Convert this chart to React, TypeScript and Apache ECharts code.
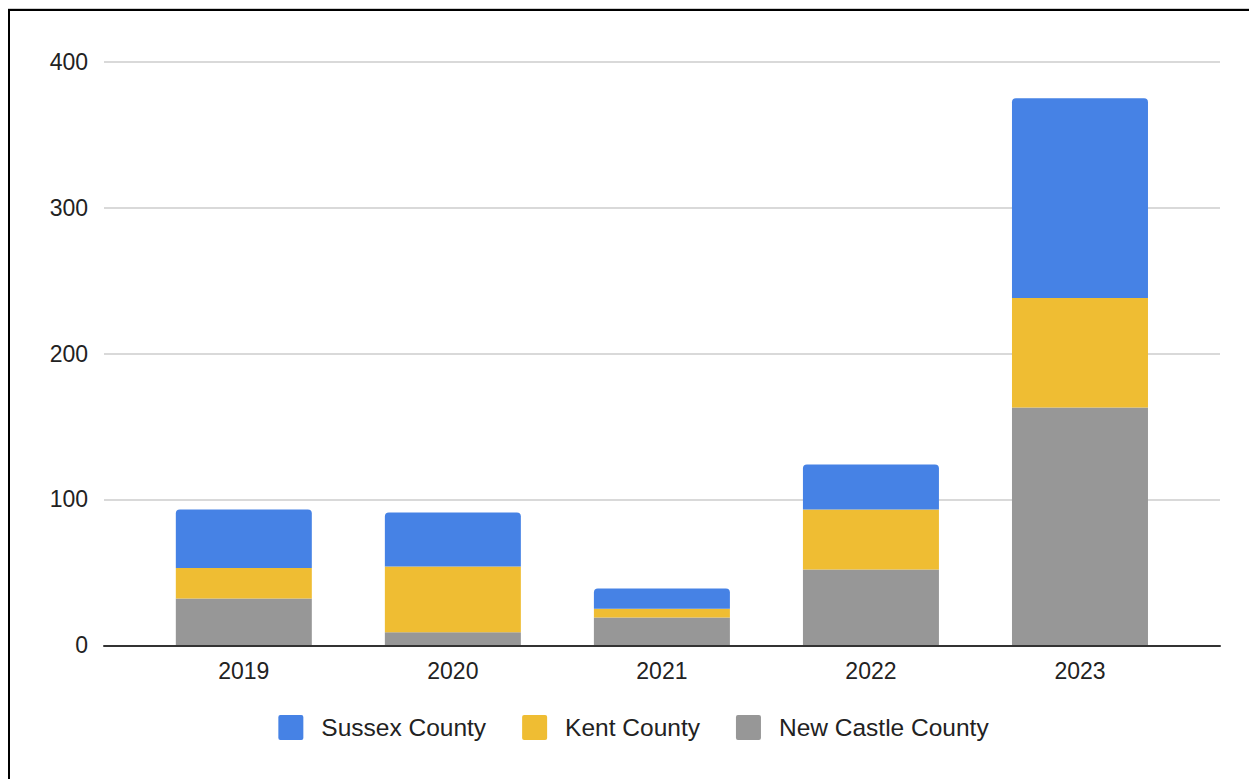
import React, { useEffect, useRef } from "react";
import * as echarts from "echarts";

const years = ["2019", "2020", "2021", "2022", "2023"];
const newCastle = [32, 9, 19, 52, 163];
const kent = [21, 45, 6, 41, 75];
const sussex = [40, 37, 14, 31, 137];
const yTicks = { min: 0, max: 400, interval: 100 };

const FONT = "'Liberation Sans', Arial, sans-serif";
const BLUE = "#4682e5";
const YELLOW = "#efbd33";
const GRAY = "#979797";
const SQUARE = "path://M2,0 L23,0 Q25,0 25,2 L25,23 Q25,25 23,25 L2,25 Q0,25 0,23 L0,2 Q0,0 2,0 Z";

export default function App() {
  const ref = useRef<HTMLDivElement>(null);
  useEffect(() => {
    document.documentElement.style.overflow = "hidden";
    document.body.style.overflow = "hidden";
    const chart = echarts.init(ref.current!, null, { renderer: "svg" });
    const top = 50.7;
    const bottom = 133.7;
    chart.setOption({
      animation: false,
      textStyle: { fontFamily: FONT },
      grid: [
        { left: 94, right: 37, top, bottom },
        { left: 129.3, right: 72.5, top, bottom },
      ],
      xAxis: [
        {
          gridIndex: 0,
          type: "category",
          data: [""],
          z: 10,
          axisLine: { show: true, lineStyle: { color: "#333", width: 2 } },
          axisTick: { show: false },
          axisLabel: { show: false },
          splitLine: { show: false },
        },
        {
          gridIndex: 1,
          type: "category",
          data: years,
          axisLine: { show: false },
          axisTick: { show: false },
          axisLabel: { fontSize: 23, color: "#222", margin: 14, fontFamily: FONT },
        },
      ],
      yAxis: [
        {
          gridIndex: 0,
          type: "value",
          min: yTicks.min,
          max: yTicks.max,
          interval: yTicks.interval,
          axisLine: { show: false },
          axisTick: { show: false },
          axisLabel: { fontSize: 23, color: "#222", margin: 16, fontFamily: FONT },
          splitLine: { lineStyle: { color: "#cccccc", width: 1.5 } },
        },
        {
          gridIndex: 1,
          type: "value",
          min: yTicks.min,
          max: yTicks.max,
          interval: yTicks.interval,
          show: false,
          splitLine: { show: false },
        },
      ],
      legend: {
        data: ["Sussex County", "Kent County", "New Castle County"],
        left: "center",
        top: 699,
        itemWidth: 25,
        itemHeight: 25,
        itemGap: 36,
        icon: SQUARE,
        textStyle: { fontSize: 24.5, color: "#222", fontFamily: FONT, padding: [0, 0, 0, 13] },
      },
      series: [
        {
          name: "New Castle County",
          type: "bar",
          stack: "total",
          xAxisIndex: 1,
          yAxisIndex: 1,
          barWidth: 136,
          data: newCastle,
          itemStyle: { color: GRAY },
        },
        {
          name: "Kent County",
          type: "bar",
          stack: "total",
          xAxisIndex: 1,
          yAxisIndex: 1,
          barWidth: 136,
          data: kent,
          itemStyle: { color: YELLOW },
        },
        {
          name: "Sussex County",
          type: "bar",
          stack: "total",
          xAxisIndex: 1,
          yAxisIndex: 1,
          barWidth: 136,
          data: sussex,
          itemStyle: { color: BLUE, borderRadius: [4, 4, 0, 0] },
        },
      ],
    });
    return () => chart.dispose();
  }, []);
  return (
    <div style={{ borderTop: "1px solid #cfcfcf" }}>
      <div style={{ borderTop: "2px solid #000", borderLeft: "2px solid #000" }}>
        <div ref={ref} style={{ width: 1247, height: 768 }} />
      </div>
    </div>
  );
}
